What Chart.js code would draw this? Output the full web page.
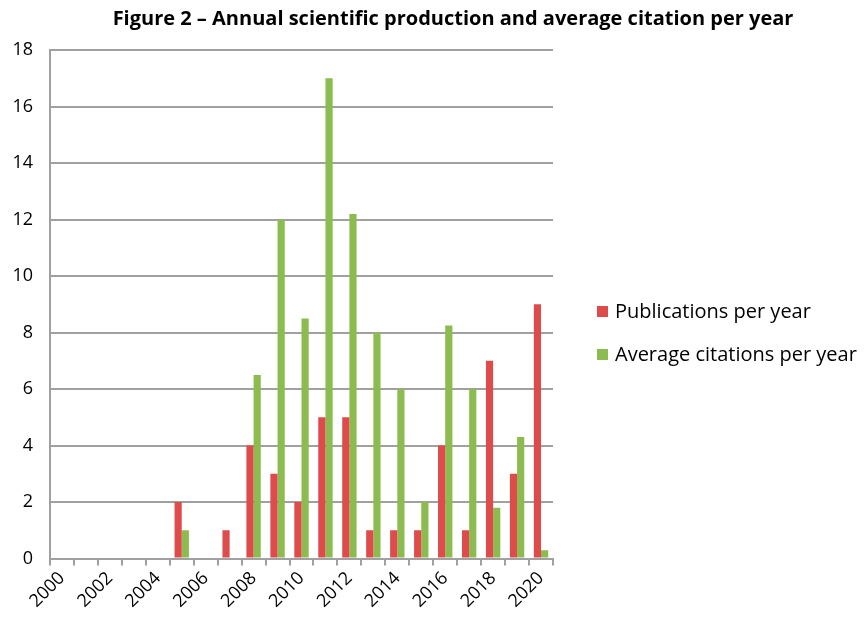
<!DOCTYPE html>
<html>
<head>
<meta charset="utf-8">
<script src="https://cdn.jsdelivr.net/npm/chart.js@4/dist/chart.umd.min.js"></script>
<style>
  html, body { margin: 0; padding: 0; background: #fff; }
  #wrap { position: relative; width: 866px; height: 622px; font-family: "Open Sans", sans-serif; }
  #title { position: absolute; top: 4px; left: 40px; width: 826px; text-align: center;
           font-weight: 700; font-size: 20px; color: #000; }
  #legend { position: absolute; left: 597px; top: 298px; font-size: 20px; color: #000; }
  #legend div { height: 43px; line-height: 26px; white-space: nowrap; }
  #legend span { display: inline-block; width: 11px; height: 11px; margin-right: 7px; vertical-align: 1px; }
</style>
</head>
<body>
<div id="wrap">
  <canvas id="c" width="866" height="622"></canvas>
  <div id="title">Figure 2 – Annual scientific production and average citation per year</div>
  <div id="legend"></div>
</div>
<script>
// years 2000..2020
var years = ['2000','2001','2002','2003','2004','2005','2006','2007','2008','2009','2010',
             '2011','2012','2013','2014','2015','2016','2017','2018','2019','2020'];
var publications = [0,0,0,0,0,2,0,1,4,3,2,5,5,1,1,1,4,1,7,3,9];
var avgCitations = [0,0,0,0,0,1,0,0,6.5,12,8.5,17,12.2,8,6,2,8.25,6,1.8,4.3,0.3];
var seriesNames = ['Publications per year', 'Average citations per year'];
var seriesColors = ['#de4b4b', '#8cbb4f'];

var grey = '#a0a0a0';

var chart = new Chart(document.getElementById('c'), {
  type: 'bar',
  data: {
    labels: years,
    datasets: [
      { label: seriesNames[0], data: publications, backgroundColor: seriesColors[0] },
      { label: seriesNames[1], data: avgCitations, backgroundColor: seriesColors[1] }
    ]
  },
  options: {
    responsive: false, animation: false,
    layout: { padding: { top: 50, right: 313, bottom: 8, left: 0 } },
    datasets: { bar: { barPercentage: 1, categoryPercentage: 0.6 } },
    plugins: { legend: { display: false }, title: { display: false }, tooltip: { enabled: false } },
    scales: {
      x: {
        grid: { drawOnChartArea: false, drawTicks: true, tickLength: 7, color: grey, lineWidth: 2 },
        border: { color: grey, width: 2 },
        ticks: {
          autoSkip: false, maxRotation: 45, minRotation: 45, padding: 2,
          color: '#000', font: { family: 'Open Sans', size: 18 },
          callback: function (v, i) { return i % 2 === 0 ? years[i] : ''; }
        }
      },
      y: {
        min: 0, max: 18,
        grid: { color: grey, lineWidth: 2, drawTicks: false },
        border: { color: grey, width: 2 },
        ticks: { stepSize: 2, padding: 17, color: '#000', font: { family: 'Open Sans', size: 18 } },
        afterFit: function (s) { s.width = 50; }
      }
    }
  }
});

// legend as plain text next to the plot
document.getElementById('legend').innerHTML = chart.data.datasets.map(function (d) {
  return '<div><span style="background:' + d.backgroundColor + '"></span>' + d.label + '</div>';
}).join('');
</script>
</body>
</html>
